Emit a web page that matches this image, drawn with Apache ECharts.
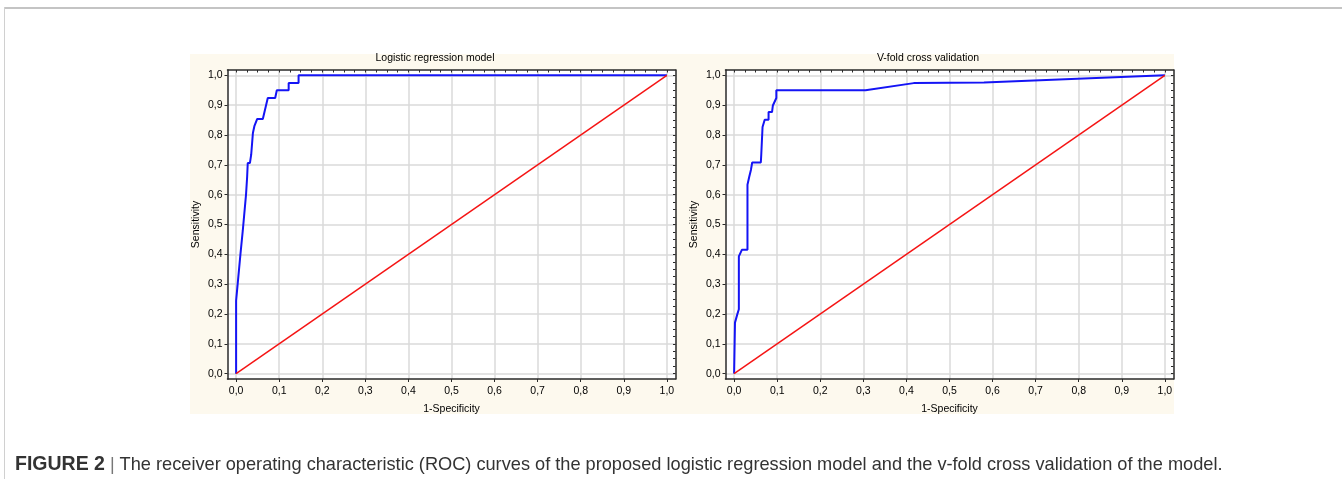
<!DOCTYPE html>
<html><head><meta charset="utf-8">
<script src="https://cdn.jsdelivr.net/npm/echarts@6/dist/echarts.min.js"></script>
<style>html,body{margin:0;padding:0;background:#fff}#c{width:1342px;height:479px}</style>
</head><body><div id="c"></div>
<script>
// ---- data ----
const majorTicks = [0, 0.1, 0.2, 0.3, 0.4, 0.5, 0.6, 0.7, 0.8, 0.9, 1.0];
const minorTicks = [];
for (let i = 0; i <= 40; i++) minorTicks.push(+(i * 0.025).toFixed(3));
const chartTitles = ['Logistic regression model', 'V-fold cross validation'];
const xAxisName = '1-Specificity';
const yAxisName = 'Sensitivity';
const logisticFpr = [0, 0, 0.004, 0.010, 0.0155, 0.023, 0.0256, 0.027, 0.032, 0.035, 0.039, 0.0426, 0.049, 0.062, 0.0735, 0.0907, 0.0945, 0.122, 0.122, 0.145, 0.145, 1.0];
const logisticTpr = [0, 0.245, 0.245, 0.40, 0.48, 0.60, 0.66, 0.706, 0.706, 0.734, 0.807, 0.831, 0.854, 0.854, 0.924, 0.924, 0.950, 0.950, 0.974, 0.974, 1.0, 1.0];
const vfoldFpr = [0, 0.002, 0.006, 0.007, 0.011, 0.011, 0.018, 0.031, 0.031, 0.035, 0.038, 0.039, 0.042, 0.042, 0.062, 0.063, 0.066, 0.066, 0.070, 0.071, 0.080, 0.080, 0.088, 0.090, 0.094, 0.098, 0.098, 0.305, 0.417, 0.58, 1.0];
const vfoldTpr = [0, 0.171, 0.171, 0.197, 0.216, 0.393, 0.415, 0.415, 0.633, 0.659, 0.659, 0.683, 0.683, 0.708, 0.708, 0.734, 0.734, 0.827, 0.827, 0.851, 0.851, 0.877, 0.877, 0.899, 0.899, 0.924, 0.950, 0.950, 0.974, 0.976, 1.0];
const refFpr = [0, 1];
const refTpr = [0, 1];
const captionLabel = 'FIGURE 2';
const captionText = 'The receiver operating characteristic (ROC) curves of the proposed logistic regression model and the v-fold cross validation of the model.';

// ---- chart ----
const FONT = '"Liberation Sans", Arial, sans-serif';
const fmt = v => (Math.round(v * 10) / 10).toFixed(1).replace('.', ',');
const zip = (a, b) => a.map((v, i) => [v, b[i]]);
const frameColor = '#2a2a2a';
const gridColor = '#dadada';
const textColor = '#000';
const gridBoxes = [
  { left: 227.5, top: 70, width: 448, height: 309 },
  { left: 725.5, top: 70, width: 448, height: 309 }
];
const XMIN = -0.02, XMAX = 1.02, YMIN = -0.018, YMAX = 1.018;

const xAxes = [], yAxes = [], series = [];
gridBoxes.forEach((g, i) => {
  xAxes.push({
    type: 'value', gridIndex: i, position: 'bottom', min: XMIN, max: XMAX,
    name: xAxisName, nameLocation: 'middle', nameGap: 25,
    nameTextStyle: { fontFamily: FONT, fontSize: 10.5, color: textColor },
    axisLine: { show: true, onZero: false, lineStyle: { color: frameColor, width: 1.5 } },
    axisTick: { show: true, customValues: majorTicks, length: 3, lineStyle: { color: frameColor } },
    axisLabel: { customValues: majorTicks, formatter: fmt, margin: 7, fontFamily: FONT, fontSize: 10.5, color: textColor },
    splitLine: { show: true, lineStyle: { color: gridColor, width: 1.5 } }
  });
  xAxes.push({
    type: 'value', gridIndex: i, position: 'top', min: XMIN, max: XMAX,
    axisLine: { show: true, onZero: false, lineStyle: { color: frameColor, width: 1.5 } },
    axisTick: { show: true, inside: true, customValues: minorTicks, length: 2.5, lineStyle: { color: frameColor } },
    axisLabel: { show: false }, splitLine: { show: false }
  });
  yAxes.push({
    type: 'value', gridIndex: i, position: 'left', min: YMIN, max: YMAX,
    name: yAxisName, nameLocation: 'middle', nameGap: 26, nameRotate: 90,
    nameTextStyle: { fontFamily: FONT, fontSize: 10.5, color: textColor },
    axisLine: { show: true, onZero: false, lineStyle: { color: frameColor, width: 1.5 } },
    axisTick: { show: true, customValues: majorTicks, length: 3, lineStyle: { color: frameColor } },
    axisLabel: { customValues: majorTicks, formatter: fmt, margin: 5, fontFamily: FONT, fontSize: 10.5, color: textColor },
    splitLine: { show: true, lineStyle: { color: gridColor, width: 1.5 } }
  });
  yAxes.push({
    type: 'value', gridIndex: i, position: 'right', min: YMIN, max: YMAX,
    axisLine: { show: true, onZero: false, lineStyle: { color: frameColor, width: 1.5 } },
    axisTick: { show: true, inside: true, customValues: minorTicks, length: 2.5, lineStyle: { color: frameColor } },
    axisLabel: { show: false }, splitLine: { show: false }
  });
});

const curves = [zip(logisticFpr, logisticTpr), zip(vfoldFpr, vfoldTpr)];
curves.forEach((d, i) => {
  series.push({
    type: 'line', xAxisIndex: 2 * i, yAxisIndex: 2 * i, data: d,
    showSymbol: false, symbol: 'none', silent: true,
    lineStyle: { color: '#1414f5', width: 2 }, z: 3
  });
  series.push({
    type: 'line', xAxisIndex: 2 * i, yAxisIndex: 2 * i, data: zip(refFpr, refTpr),
    showSymbol: false, symbol: 'none', silent: true,
    lineStyle: { color: '#f51414', width: 1.5 }, z: 4
  });
});

const chart = echarts.init(document.getElementById('c'), null, { renderer: 'canvas' });
chart.setOption({
  animation: false,
  backgroundColor: '#ffffff',
  grid: gridBoxes.map(g => Object.assign({ containLabel: false, show: true, backgroundColor: '#ffffff', borderWidth: 0 }, g)),
  xAxis: xAxes,
  yAxis: yAxes,
  series: series,
  graphic: [
    { type: 'rect', z: -10, silent: true, shape: { x: 190, y: 54, width: 984, height: 360 }, style: { fill: '#fdf9ee' } },
    { type: 'rect', z: -9, silent: true, shape: { x: 4, y: 7, width: 1338, height: 2 }, style: { fill: '#c4c4c4' } },
    { type: 'rect', z: -9, silent: true, shape: { x: 4, y: 7, width: 1, height: 472 }, style: { fill: '#d0d0d0' } },
    { type: 'text', x: 435, y: 58, style: { text: chartTitles[0], textAlign: 'center', textVerticalAlign: 'middle', font: '10.5px ' + FONT, fill: textColor } },
    { type: 'text', x: 928, y: 58, style: { text: chartTitles[1], textAlign: 'center', textVerticalAlign: 'middle', font: '10.5px ' + FONT, fill: textColor } },
    { type: 'text', x: 15, y: 465, style: {
        text: '{b|' + captionLabel + '}{s| | }{t|' + captionText + '}',
        textVerticalAlign: 'middle',
        rich: {
          b: { fontFamily: FONT, fontWeight: 'bold', fontSize: 19.5, fill: '#333' },
          s: { fontFamily: FONT, fontSize: 18, fill: '#777' },
          t: { fontFamily: FONT, fontSize: 18.2, fill: '#333' }
        }
    } }
  ]
});
</script>
</body></html>
